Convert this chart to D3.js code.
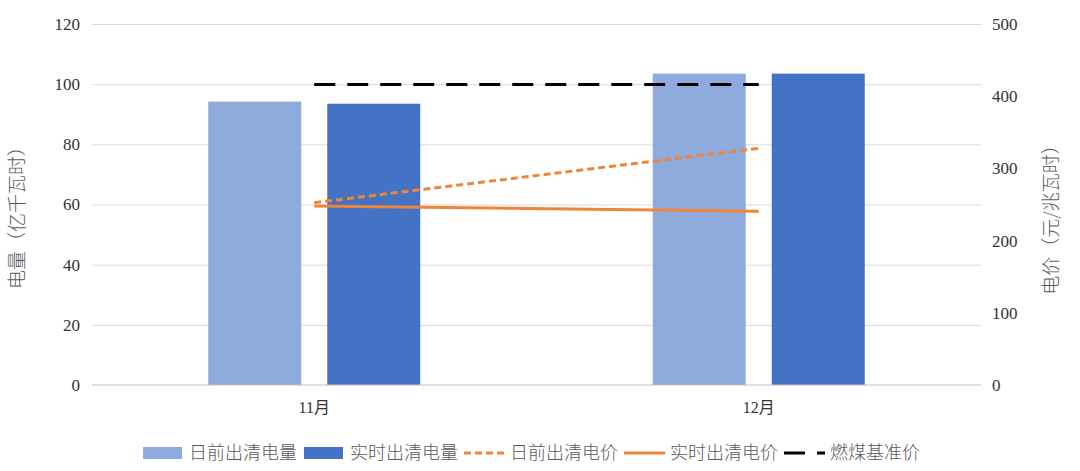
<!DOCTYPE html>
<html>
<head>
<meta charset="utf-8">
<script src="https://cdn.jsdelivr.net/npm/d3@7/dist/d3.min.js"></script>
<style>
  body { margin: 0; background: #fff; }
  .tick text { font-family: "Liberation Serif", "Noto Sans CJK SC", serif; fill: #333; }
  .cn { font-family: "Noto Sans CJK SC", sans-serif; font-weight: 300; fill: #595959; }
</style>
</head>
<body>
<div id="chart"></div>
<script>

// data
var months = ['11月', '12月']
var dayAheadVolume = [94.2, 103.5]
var realTimeVolume = [93.5, 103.5]
var dayAheadPrice = [252.5, 327.8]
var realTimePrice = [247.9, 240.5]
var coalBenchmark = [416.1, 416.1]
var leftTicks = [0, 20, 40, 60, 80, 100, 120]
var rightTicks = [0, 100, 200, 300, 400, 500]
var seriesNames = ['日前出清电量', '实时出清电量', '日前出清电价', '实时出清电价', '燃煤基准价']

var width = 1080, height = 471
var plot = {left: 92, right: 981, top: 24, bottom: 385}

var svg = d3.select("#chart").append("svg")
  .attr("width", width)
  .attr("height", height)

var xScale = d3.scaleBand()
  .domain(months)
  .range([plot.left, plot.right])
  .padding(0)

var xInner = d3.scaleBand()
  .domain(['day', 'real'])
  .range([xScale.bandwidth() / 2 - 106, xScale.bandwidth() / 2 + 106])
  .paddingInner(0.2185)

var yLeft = d3.scaleLinear().domain([0, 120]).range([plot.bottom, plot.top])
var yRight = d3.scaleLinear().domain([0, 500]).range([plot.bottom, plot.top])

// gridlines
var grid = d3.axisLeft(yLeft)
  .tickValues(leftTicks.slice(1))
  .tickSize(-(plot.right - plot.left))
  .tickFormat('')
svg.append("g")
  .attr("transform", "translate(" + plot.left + ",0)")
  .call(grid)
  .call(function(g) { g.select(".domain").remove() })
  .selectAll("line").attr("stroke", "#d9d9d9")

// left axis labels
svg.append("g")
  .attr("transform", "translate(" + plot.left + ",0)")
  .call(d3.axisLeft(yLeft).tickValues(leftTicks).tickSize(0).tickPadding(12))
  .call(function(g) { g.select(".domain").remove() })
  .selectAll("text").style("font-size", "17px")

// right axis labels
svg.append("g")
  .attr("transform", "translate(" + plot.right + ",0)")
  .call(d3.axisRight(yRight).tickValues(rightTicks).tickSize(0).tickPadding(11))
  .call(function(g) { g.select(".domain").remove() })
  .selectAll("text").style("font-size", "17px")

// bars
var bars = svg.append("g")
months.forEach(function(m, i) {
  bars.append("rect")
    .attr("x", xScale(m) + xInner('day'))
    .attr("width", xInner.bandwidth())
    .attr("y", yLeft(dayAheadVolume[i]))
    .attr("height", yLeft(0) - yLeft(dayAheadVolume[i]))
    .style("fill", "#8FAADC")
  bars.append("rect")
    .attr("x", xScale(m) + xInner('real'))
    .attr("width", xInner.bandwidth())
    .attr("y", yLeft(realTimeVolume[i]))
    .attr("height", yLeft(0) - yLeft(realTimeVolume[i]))
    .style("fill", "#4472C4")
})

// baseline
svg.append("line")
  .attr("x1", plot.left).attr("x2", plot.right)
  .attr("y1", yLeft(0)).attr("y2", yLeft(0))
  .attr("stroke", "#bfbfbf").attr("stroke-width", 1.2)

// x labels
svg.append("g")
  .attr("transform", "translate(0," + plot.bottom + ")")
  .call(d3.axisBottom(xScale).tickSize(0).tickPadding(17))
  .call(function(g) { g.select(".domain").remove() })
  .selectAll("text").style("font-size", "16px")

var cx = function(i) { return xScale(months[i]) + xScale.bandwidth() / 2 }
var line = d3.line()
  .x(function(d, i) { return cx(i) })
  .y(function(d) { return yRight(d) })

svg.append("path").datum(coalBenchmark)
  .attr("d", line).attr("fill", "none")
  .attr("stroke", "#000").attr("stroke-width", 3)
  .attr("stroke-dasharray", "21,12")

svg.append("path").datum(dayAheadPrice)
  .attr("d", line).attr("fill", "none")
  .attr("stroke", "#EE8539").attr("stroke-width", 3)
  .attr("stroke-dasharray", "7,4")

svg.append("path").datum(realTimePrice)
  .attr("d", line).attr("fill", "none")
  .attr("stroke", "#EE8539").attr("stroke-width", 3)

// axis titles
svg.append("text").attr("class", "cn")
  .attr("transform", "translate(24,213) rotate(-90)")
  .attr("text-anchor", "middle")
  .style("font-size", "19px")
  .text("电量（亿千瓦时）")

svg.append("text").attr("class", "cn")
  .attr("transform", "translate(1058,215) rotate(-90)")
  .attr("text-anchor", "middle")
  .style("font-size", "19px")
  .text("电价（元/兆瓦时）")

// legend
var legendX = [143, 304, 464, 624, 784]
var legend = svg.append("g").attr("transform", "translate(0,453)")
seriesNames.forEach(function(name, i) {
  var x = legendX[i]
  if (i < 2) {
    legend.append("rect")
      .attr("x", x).attr("y", -6).attr("width", 39).attr("height", 12)
      .style("fill", i == 0 ? "#8FAADC" : "#4472C4")
  } else {
    legend.append("line")
      .attr("x1", x).attr("x2", x + 41).attr("y1", 0).attr("y2", 0)
      .attr("stroke", i == 4 ? "#000" : "#EE8539")
      .attr("stroke-width", 3)
      .attr("stroke-dasharray", i == 2 ? "7,4" : (i == 4 ? "21,12" : null))
  }
  legend.append("text").attr("class", "cn")
    .attr("x", x + 46).attr("y", 0).attr("dy", "0.35em")
    .style("font-size", "18px")
    .text(name)
})

</script>
</body>
</html>
